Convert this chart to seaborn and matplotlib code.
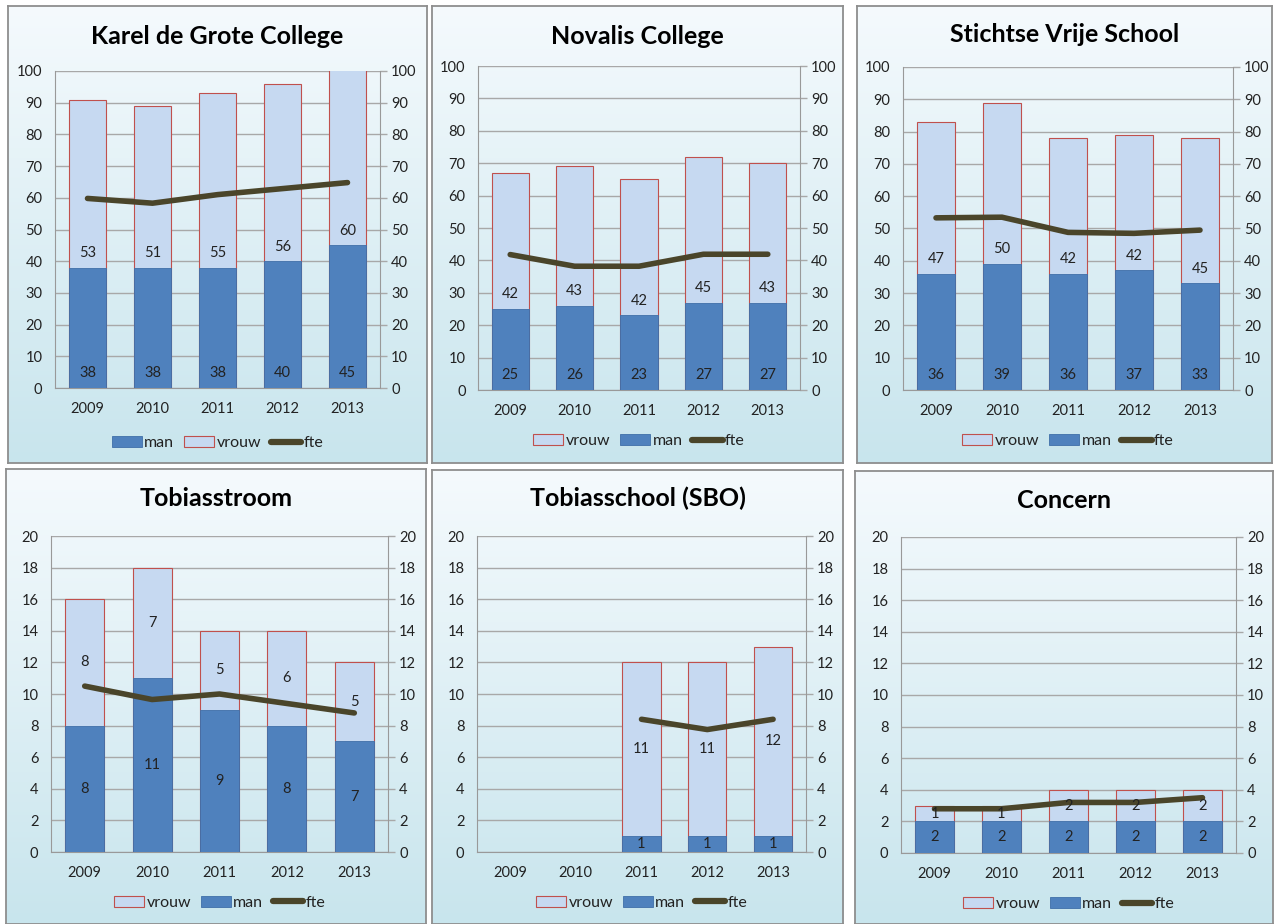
import numpy as np
import pandas as pd
import matplotlib
matplotlib.use("Agg")
import matplotlib.pyplot as plt
import seaborn as sns
from matplotlib.patches import Patch
from matplotlib.lines import Line2D
from matplotlib.colors import LinearSegmentedColormap

years = ["2009", "2010", "2011", "2012", "2013"]

kdg_man = [38, 38, 38, 40, 45]
kdg_vrouw = [53, 51, 55, 56, 60]
kdg_fte = [59.8, 58.3, 61.0, 62.9, 64.8]

nov_man = [25, 26, 23, 27, 27]
nov_vrouw = [42, 43, 42, 45, 43]
nov_fte = [41.8, 38.2, 38.2, 41.9, 41.9]

svs_man = [36, 39, 36, 37, 33]
svs_vrouw = [47, 50, 42, 42, 45]
svs_fte = [53.3, 53.5, 48.8, 48.5, 49.5]

tst_man = [8, 11, 9, 8, 7]
tst_vrouw = [8, 7, 5, 6, 5]
tst_fte = [10.5, 9.65, 10.0, 9.4, 8.8]

sbo_man = [np.nan, np.nan, 1, 1, 1]
sbo_vrouw = [np.nan, np.nan, 11, 11, 12]
sbo_fte = [np.nan, np.nan, 8.4, 7.75, 8.4]

con_man = [2, 2, 2, 2, 2]
con_vrouw = [1, 1, 2, 2, 2]
con_fte = [2.8, 2.8, 3.2, 3.2, 3.5]

titles = ["Karel de Grote College", "Novalis College", "Stichtse Vrije School",
          "Tobiasstroom", "Tobiasschool (SBO)", "Concern"]
series = [(kdg_man, kdg_vrouw, kdg_fte), (nov_man, nov_vrouw, nov_fte),
          (svs_man, svs_vrouw, svs_fte), (tst_man, tst_vrouw, tst_fte),
          (sbo_man, sbo_vrouw, sbo_fte), (con_man, con_vrouw, con_fte)]
ymax = [100, 100, 100, 20, 20, 20]
ystep = [10, 10, 10, 2, 2, 2]
label_mode = ["base", "base", "base", "center", "center", "center"]
legend_order = [["man", "vrouw", "fte"]] + [["vrouw", "man", "fte"]] * 5

W, H = 1280, 924
panel_px = [(8, 6, 427, 463), (432, 6, 843, 463), (857, 6, 1272, 463),
            (6, 469, 426, 924), (432, 470, 843, 924), (855, 471, 1273, 924)]
plot_px = [(55, 71, 380, 388), (478, 66, 800, 390), (903, 67, 1233, 390),
           (51, 536, 388, 852), (477, 536, 806, 852), (901, 537, 1236, 853)]
title_y = [36, 36, 35, 498, 498, 500]
legend_y = [443, 441, 441, 903, 903, 904]

MAN = "#4F81BD"
MAN_EDGE = "#3F6FA8"
VROUW = "#C6D9F1"
VROUW_EDGE = "#C0504D"
FTE = "#4A452A"
GRID = "#A8A8A8"
TXT = "#222222"

plt.rcParams['font.family'] = ['Lato', 'DejaVu Sans']

fig = plt.figure(figsize=(W / 100, H / 100), dpi=100)
fig.patch.set_facecolor("white")

cmap = LinearSegmentedColormap.from_list("bg", ["#F5FAFD", "#C8E5ED"])
grad = np.linspace(0, 1, 256).reshape(-1, 1)


def rect(px):
    x0, y0, x1, y1 = px
    return [x0 / W, 1 - y1 / H, (x1 - x0) / W, (y1 - y0) / H]


for i in range(6):
    man, vrouw, fte = series[i]
    # panel background
    bg = fig.add_axes(rect(panel_px[i]), zorder=0)
    bg.imshow(grad, aspect="auto", cmap=cmap, extent=[0, 1, 0, 1], origin="upper")
    bg.set_xticks([]); bg.set_yticks([])
    for s in bg.spines.values():
        s.set_color("#8E8E8E"); s.set_linewidth(1.3)

    ax = fig.add_axes(rect(plot_px[i]), zorder=1)
    ax.set_facecolor("none")
    df = pd.DataFrame({"year": years, "man": man, "vrouw": vrouw, "fte": fte})
    df["total"] = df["man"] + df["vrouw"]
    dfb = df.dropna()

    sns.barplot(data=dfb, x="year", y="total", order=years, color=VROUW,
                edgecolor=VROUW_EDGE, linewidth=0.8, width=0.58, saturation=1,
                errorbar=None, ax=ax, zorder=2)
    sns.barplot(data=dfb, x="year", y="man", order=years, color=MAN,
                edgecolor=MAN_EDGE, linewidth=0.6, width=0.58, saturation=1,
                errorbar=None, ax=ax, zorder=3)
    pos = [years.index(y) for y in dfb["year"]]
    sns.lineplot(x=pos, y=dfb["fte"].values, color=FTE, linewidth=4,
                 solid_capstyle="round", ax=ax, zorder=5)

    # data labels
    for p, (_, r) in zip(pos, dfb.iterrows()):
        if label_mode[i] == "base":
            ax.annotate(f"{int(r['man'])}", (p, 0), xytext=(0, 11),
                        textcoords="offset points", ha="center", va="center",
                        fontsize=10.5, color=TXT, zorder=6)
            ax.annotate(f"{int(r['vrouw'])}", (p, r["man"]), xytext=(0, 10.5),
                        textcoords="offset points", ha="center", va="center",
                        fontsize=10.5, color=TXT, zorder=6)
        else:
            ax.text(p, r["man"] / 2, f"{int(r['man'])}", ha="center", va="center",
                    fontsize=10.5, color=TXT, zorder=6)
            ax.text(p, r["man"] + r["vrouw"] / 2, f"{int(r['vrouw'])}", ha="center",
                    va="center", fontsize=10.5, color=TXT, zorder=6)

    ticks = np.arange(0, ymax[i] + 0.01, ystep[i])
    ax.set_ylim(0, ymax[i])
    ax.set_xlim(-0.5, 4.5)
    ax.set_yticks(ticks)
    ax.set_yticklabels([f"{int(t)}" for t in ticks])
    ax.set_xlabel(""); ax.set_ylabel("")
    ax.yaxis.grid(True, color=GRID, linewidth=1.0)
    ax.set_axisbelow(True)
    ax.tick_params(axis="y", length=0, pad=9, labelsize=10.5, labelcolor=TXT)
    ax.tick_params(axis="x", length=0, pad=10, labelsize=10.5, labelcolor=TXT)
    for s in ["top", "right"]:
        ax.spines[s].set_visible(False)
    ax.spines["left"].set_color("#999999")
    ax.spines["bottom"].set_color("#999999")

    ax2 = ax.twinx()
    ax2.set_ylim(0, ymax[i])
    ax2.set_yticks(ticks)
    ax2.set_yticklabels([f"{int(t)}" for t in ticks])
    ax2.tick_params(axis="y", length=5, width=1, color=GRID, pad=3,
                    labelsize=10.5, labelcolor=TXT)
    for s in ["top", "left", "bottom"]:
        ax2.spines[s].set_visible(False)
    ax2.spines["right"].set_color("#999999")

    # title
    x0, y0, x1, y1 = panel_px[i]
    fig.text((x0 + x1) / 2 / W, 1 - title_y[i] / H, titles[i], ha="center",
             va="center", fontsize=18, fontweight="bold", color="black")

    # legend
    handles = {
        "man": Patch(facecolor=MAN, edgecolor=MAN_EDGE, linewidth=0.6),
        "vrouw": Patch(facecolor=VROUW, edgecolor=VROUW_EDGE, linewidth=0.8),
        "fte": Line2D([0], [0], color=FTE, linewidth=4.5, solid_capstyle="round"),
    }
    order = legend_order[i]
    px0, py0, px1, py1 = plot_px[i]
    ly = -(legend_y[i] - py1) / (py1 - py0)
    ax.legend([handles[k] for k in order], order, loc="center",
              bbox_to_anchor=(0.5, ly), ncol=3, frameon=False,
              fontsize=11.5, handlelength=1.9, handleheight=0.7,
              handletextpad=0.15, columnspacing=0.6, labelcolor=TXT,
              borderpad=0)

fig.savefig("out.png", dpi=100)
